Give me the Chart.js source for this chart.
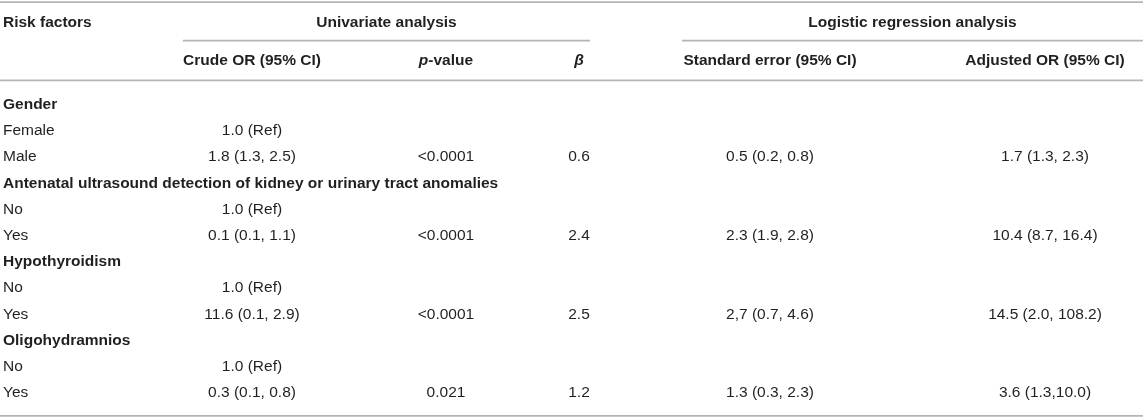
<!DOCTYPE html>
<html>
<head>
<meta charset="utf-8">
<script src="https://cdn.jsdelivr.net/npm/chart.js@4/dist/chart.umd.min.js"></script>
<style>
  html, body { margin: 0; padding: 0; background: #fff; }
  #wrap { width: 1143px; height: 418px; }
</style>
</head>
<body>
<div id="wrap"><canvas id="tbl" width="1143" height="418"></canvas></div>
<script>
// table content
const rowLabels = ['Gender', 'Female', 'Male',
  'Antenatal ultrasound detection of kidney or urinary tract anomalies', 'No', 'Yes',
  'Hypothyroidism', 'No', 'Yes',
  'Oligohydramnios', 'No', 'Yes'];
const groupRows = [0, 3, 6, 9];
const crudeOR  = ['', '1.0 (Ref)', '1.8 (1.3, 2.5)', '', '1.0 (Ref)', '0.1 (0.1, 1.1)', '', '1.0 (Ref)', '11.6 (0.1, 2.9)', '', '1.0 (Ref)', '0.3 (0.1, 0.8)'];
const pValues  = ['', '', '<0.0001', '', '', '<0.0001', '', '', '<0.0001', '', '', '0.021'];
const betas    = ['', '', '0.6', '', '', '2.4', '', '', '2.5', '', '', '1.2'];
const stdError = ['', '', '0.5 (0.2, 0.8)', '', '', '2.3 (1.9, 2.8)', '', '', '2,7 (0.7, 4.6)', '', '', '1.3 (0.3, 2.3)'];
const adjOR    = ['', '', '1.7 (1.3, 2.3)', '', '', '10.4 (8.7, 16.4)', '', '', '14.5 (2.0, 108.2)', '', '', '3.6 (1.3,10.0)'];
const groupHeaders = ['Univariate analysis', 'Logistic regression analysis'];
const colHeaders = ['Crude OR (95% CI)', 'p-value', 'β', 'Standard error (95% CI)', 'Adjusted OR (95% CI)'];

// layout (x in px units of the x scale, y in row units)
const colX = [252, 446, 579, 770, 1045];
const labelX = 3;
const groupSpans = [[183, 590], [682, 1143]];
const yHead1 = -3.13, yHead2 = -1.68, yUnder = -2.45, yRule = -0.93, yTop = -3.92, yBottom = 11.88;

const FONT = '"Liberation Sans", Arial, Helvetica, sans-serif';
const TEXT = '#231f20';
const RULE = '#b5b5b5';

const tablePlugin = {
  id: 'tableDraw',
  afterDraw(chart) {
    const ctx = chart.ctx;
    const xs = chart.scales.x, ys = chart.scales.y;
    const X = v => xs.getPixelForValue(v);
    const Y = v => ys.getPixelForValue(v);
    ctx.save();
    ctx.textBaseline = 'middle';
    ctx.fillStyle = TEXT;

    // rules
    ctx.strokeStyle = RULE;
    ctx.lineWidth = 1.6;
    const hline = (x0, x1, y) => { ctx.beginPath(); ctx.moveTo(x0, y); ctx.lineTo(x1, y); ctx.stroke(); };
    hline(X(0), X(1143), Y(yTop));
    hline(X(0), X(1143), Y(yRule));
    hline(X(0), X(1143), Y(yBottom));
    groupSpans.forEach(s => hline(X(s[0]), X(s[1]), Y(yUnder)));

    // header row 1
    ctx.font = 'bold 15.5px ' + FONT;
    ctx.textAlign = 'left';
    ctx.fillText('Risk factors', X(labelX), Y(yHead1));
    ctx.textAlign = 'center';
    groupHeaders.forEach((t, i) => ctx.fillText(t, X((groupSpans[i][0] + groupSpans[i][1]) / 2), Y(yHead1)));

    // header row 2
    colHeaders.forEach((t, i) => {
      const cx = X(colX[i]), cy = Y(yHead2);
      if (t === 'p-value') {
        ctx.font = 'italic bold 15.5px ' + FONT;
        const w1 = ctx.measureText('p').width;
        ctx.font = 'bold 15.5px ' + FONT;
        const w2 = ctx.measureText('-value').width;
        const x0 = cx - (w1 + w2) / 2;
        ctx.textAlign = 'left';
        ctx.font = 'italic bold 15.5px ' + FONT;
        ctx.fillText('p', x0, cy);
        ctx.font = 'bold 15.5px ' + FONT;
        ctx.fillText('-value', x0 + w1, cy);
      } else {
        ctx.font = (t === 'β' ? 'italic bold 15.5px ' : 'bold 15.5px ') + FONT;
        ctx.textAlign = 'center';
        ctx.fillText(t, cx, cy);
      }
    });

    // body
    const cols = [crudeOR, pValues, betas, stdError, adjOR];
    rowLabels.forEach((lab, r) => {
      const cy = Y(r);
      const isGroup = groupRows.includes(r);
      ctx.font = (isGroup ? 'bold ' : '') + '15.5px ' + FONT;
      ctx.textAlign = 'left';
      ctx.fillText(lab, X(labelX), cy);
      ctx.font = '15.5px ' + FONT;
      ctx.textAlign = 'center';
      cols.forEach((c, i) => { if (c[r]) ctx.fillText(c[r], X(colX[i]), cy); });
    });
    ctx.restore();
  }
};

new Chart(document.getElementById('tbl'), {
  type: 'scatter',
  data: { datasets: [{ data: [], pointRadius: 0 }] },
  options: {
    responsive: false,
    animation: false,
    layout: { padding: 0 },
    plugins: { legend: { display: false }, tooltip: { enabled: false } },
    scales: {
      x: { type: 'linear', min: 0, max: 1143, display: false },
      y: { type: 'linear', min: -4.0, max: 11.96, reverse: true, display: false }
    }
  },
  plugins: [tablePlugin]
});
</script>
</body>
</html>
